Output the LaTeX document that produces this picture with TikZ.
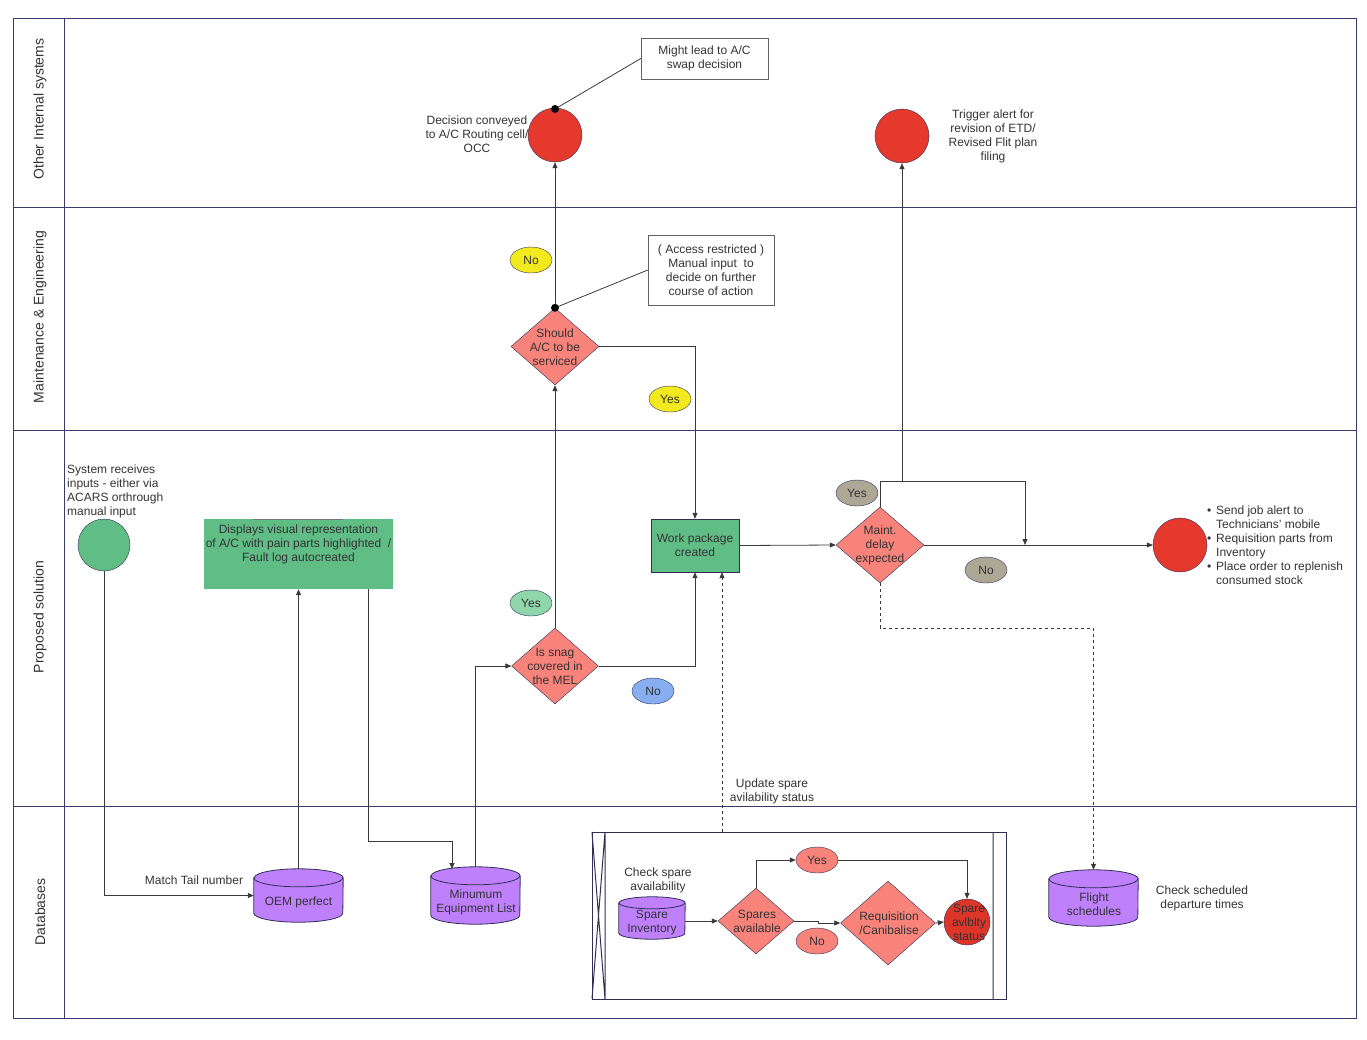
\documentclass[tikz,border=0pt]{standalone}
\usepackage{fontspec}
\setmainfont{Liberation Sans}
\usetikzlibrary{shapes.geometric,arrows.meta,calc}
\definecolor{lane}{HTML}{3B3B6B}
\definecolor{txt}{HTML}{333333}
\definecolor{redc}{HTML}{E5392D}
\definecolor{redd}{HTML}{DE3529}
\definecolor{dia}{HTML}{F8837B}
\definecolor{purp}{HTML}{BF80FC}
\definecolor{grn}{HTML}{60BD85}
\definecolor{yel}{HTML}{F2EA1E}
\definecolor{lgrn}{HTML}{8FD7AA}
\definecolor{blu}{HTML}{88AEF2}
\definecolor{gry}{HTML}{ADA895}
\definecolor{edge}{HTML}{2F2F55}
\definecolor{wire}{HTML}{3A3A3A}
\newcommand\dbcyl[3]{%
  \path[draw=edge,fill=purp,line width=0.8pt] ($(#1.north west)+(0,#3)$) -- ($(#1.south west)+(0,-#3)$)
    arc[start angle=180,end angle=360,x radius=#2,y radius=#3pt] -- ($(#1.north east)+(0,#3)$)
    arc[start angle=0,end angle=180,x radius=#2,y radius=#3pt] -- cycle;
  \draw[edge,line width=0.8pt] ($(#1.north west)+(0,#3)$) arc[start angle=180,end angle=360,x radius=#2,y radius=#3pt];}
\begin{document}
\begin{tikzpicture}[x=1pt,y=-1pt,font=\fontsize{12}{14}\selectfont,
  lbl/.style={align=center,inner sep=0pt,text=txt},
  circ/.style={circle,draw=edge,fill=redc,minimum size=54pt,inner sep=0pt},
  dmd/.style={diamond,draw=edge,fill=dia,inner sep=0pt},
  dbn/.style={rectangle,inner sep=0pt,draw=none},
  ell/.style={ellipse,draw=edge,inner sep=0pt,minimum width=42pt,minimum height=26pt,text=txt},
  note/.style={rectangle,draw=wire!80,align=center,inner sep=0pt,text=txt},
  conn/.style={draw=wire,line width=0.8pt,-{Triangle[length=6pt,width=5pt]}},
  plain/.style={draw=wire,line width=0.8pt},
  lanel/.style={draw=lane,line width=1pt},
  lanetxt/.style={lbl,rotate=90,font=\fontsize{14}{16}\selectfont}]
\useasboundingbox (0,0) rectangle (1367,1039);
% lanes
\draw[lanel] (13,18) rectangle (1356,1018);
\draw[lanel] (64,18) -- (64,1018);
\draw[lanel] (13,207) -- (1356,207);
\draw[lanel] (13,430) -- (1356,430);
\draw[lanel] (13,806) -- (1356,806);
\node[lanetxt] (l1) at (40,109) {Other Internal systems};
\node[lanetxt] (l2) at (40,317) {Maintenance \& Engineering};
\node[lanetxt] (l3) at (40,617) {Proposed solution};
\node[lanetxt] (l4) at (40,912) {Databases};

% top lane
\node[circ] (dec) at (555,135) {};
\node[lbl] (dectxt) at (477,134) {Decision conveyed\\to A/C Routing cell/\\OCC};
\node[note,minimum width=127pt,minimum height=41pt] (swap) at (704.5,58.5) {Might lead to A/C\\swap decision};
\coordinate (dot1) at (555,109);
\draw[plain] (swap.west) -- (dot1);
\fill[black] (dot1) circle (4pt);
\node[circ] (trig) at (902,136) {};
\node[lbl] (trigtxt) at (993,136) {Trigger alert for\\revision of ETD/\\Revised Flit plan\\filing};

% M&E lane
\node[ell,fill=yel] (no1) at (531,260) {No};
\node[note,minimum width=126pt,minimum height=70pt] (acc) at (711,270) {( Access restricted )\\Manual input\ \ to\\decide on further\\course of action};
\node[dmd,minimum width=88pt,minimum height=77pt] (svc) at (555,346.5) {};
\node[lbl] (svctxt) at (555,347) {Should\\A/C to be\\serviced};
\node[ell,fill=yel] (yes1) at (670,399) {Yes};

% Proposed lane
\node[lbl,align=left,anchor=west] (systxt) at (67,491) {System receives\\inputs - either via\\ACARS orthrough\\manual input};
\node[circ,fill=grn,minimum size=52pt] (start) at (104,545) {};
\node[rectangle,fill=grn,minimum width=189pt,minimum height=70pt] (vis) at (298.5,554) {};
\draw[wire!70,line width=0.8pt] (253,519) -- (343,519);
\node[lbl] (vistxt) at (298.5,544) {Displays visual representation\\of A/C with pain parts highlighted\ \ /\\Fault log autocreated};
\node[rectangle,fill=grn,draw=edge,minimum width=88pt,minimum height=53pt,align=center,inner sep=0pt,text=txt] (wp) at (695,545.5) {Work package\\created};
\node[dmd,minimum width=87pt,minimum height=76pt] (snag) at (555,666) {};
\node[lbl] (snagtxt) at (555,666) {Is snag\\covered in\\the MEL};
\node[ell,fill=lgrn] (yes2) at (531,603) {Yes};
\node[ell,fill=blu] (no2) at (653,691) {No};
\node[dmd,minimum width=88pt,minimum height=76pt] (mnt) at (880,545) {};
\node[lbl] (mnttxt) at (880,545) {Maint.\\delay\\expected};
\node[ell,fill=gry] (yes3) at (857,493) {Yes};
\node[ell,fill=gry] (no3) at (986,570) {No};
\node[circ] (endc) at (1180,545) {};
\node[lbl,align=left,anchor=west] (bul) at (1207,545.5) {\makebox[9pt][l]{\textbullet}Send job alert to\\\hspace*{9pt}Technicians' mobile\\\makebox[9pt][l]{\textbullet}Requisition parts from\\\hspace*{9pt}Inventory\\\makebox[9pt][l]{\textbullet}Place order to replenish\\\hspace*{9pt}consumed stock};
\node[lbl] (updtxt) at (772,791) {Update spare\\avilability status};

% Databases lane
\node[dbn,minimum width=89pt,minimum height=53pt] (oem) at (298.5,895.5) {};
\dbcyl{oem}{44.5pt}{9}
\node[lbl] (oemtxt) at (298.5,902) {OEM perfect};
\node[lbl] (tail) at (194,880) {Match Tail number};
\node[dbn,minimum width=89pt,minimum height=57pt] (mel) at (475.5,895.5) {};
\dbcyl{mel}{44.5pt}{9}
\node[lbl] (meltxt) at (476,902) {Minumum\\Equipment List};
\node[draw=edge,line width=1pt,minimum width=414pt,minimum height=167pt,inner sep=0pt] (cont) at (799,915.5) {};
\draw[draw=edge,line width=1pt] (605,832) -- (605,999) (592,832) -- (605,999) (605,832) -- (592,999) (993,832) -- (993,999);
\node[lbl] (chk) at (658,880) {Check spare\\availability};
\node[dbn,minimum width=66pt,minimum height=42pt] (spi) at (652,918) {};
\dbcyl{spi}{33pt}{6}
\node[lbl] (spitxt) at (652,923) {Spare\\Inventory};
\node[dmd,minimum width=76pt,minimum height=66pt] (spa) at (756,921) {};
\node[lbl] (spatxt) at (757,921) {Spares\\available};
\node[ell,fill=dia] (yes4) at (817,860) {Yes};
\node[ell,fill=dia] (no4) at (817,941) {No};
\node[dmd,minimum width=95pt,minimum height=84pt] (req) at (888,923) {};
\node[lbl] (reqtxt) at (889,923) {Requisition\\/Canibalise};
\node[circ,fill=redd,minimum size=46pt] (sas) at (967,922) {};
\node[lbl] (sastxt) at (969,922) {Spare\\avlblty\\status};
\node[dbn,minimum width=89pt,minimum height=56pt] (fs) at (1093.5,898) {};
\dbcyl{fs}{44.5pt}{9}
\node[lbl] (fsinner) at (1094,904) {Flight\\schedules};
\node[lbl] (fstxt) at (1202,898) {Check scheduled\\departure times};

% connectors
\draw[conn] (svc.north) -- (dec.south);
\draw[plain] (acc.west) -- (svc.north);
\fill[black] (svc.north) circle (4pt);
\draw[conn] (svc.east) -| (wp.north);
\draw[conn] (snag.north) -- (svc.south);
\draw[conn] (snag.east) -| (wp.south);
\coordinate (upd) at (722,832);
\draw[conn,dashed] (upd) -- (upd |- wp.south);
\draw[conn] (wp.east) -- (mnt.west);
\coordinate (j1) at (880,481);
\coordinate (j2) at (1025,481);
\coordinate (j3) at (1025,545);
\draw[conn] (mnt.north) -- (j1) -- (j2) -- (j3);
\draw[conn] (j1 -| trig.south) -- (trig.south);
\draw[conn] (mnt.east) -- (endc.west);
\coordinate (d1) at (880,628);
\draw[conn,dashed] (mnt.south) -- (d1) -| (fs.north);
\draw[conn] (start.south) |- (oem.west);
\draw[conn] (oem.north) -- (vis.south);
\coordinate (v1) at (368,589);
\coordinate (v2) at (368,841);
\coordinate (m1) at (452,869);
\draw[conn] (v1) -- (v2) -| (m1);
\draw[conn] (mel.north) |- (snag.west);
\draw[conn] (spa.west -| spi.east) -- (spa.west);
\draw[conn] (spa.north) |- (yes4.west);
\draw[conn] (yes4.east) -| (sas.north);
\draw[conn] (spa.east) -- ++(24,0) |- (req.west);
\draw[conn] (req.east) -- (sas.west);
\end{tikzpicture}
\end{document}
